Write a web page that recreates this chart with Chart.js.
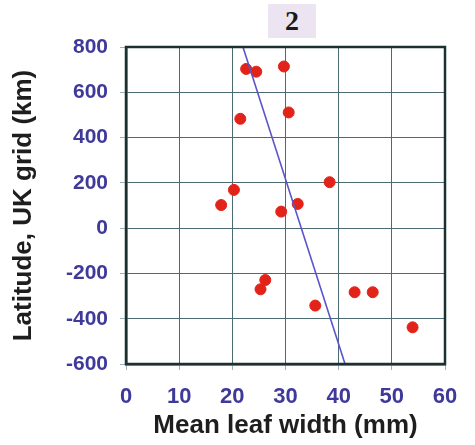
<!DOCTYPE html>
<html lang="en">
<head>
    <meta charset="UTF-8">
    <title>Latitude vs mean leaf width</title>
    <script src="https://cdn.jsdelivr.net/npm/chart.js"></script>
    <style>
        body {
            margin: 0;
            background: #ffffff;
        }
        #wrap {
            position: relative;
            width: 475px;
            height: 445px;
        }
        #label {
            position: absolute;
            left: 268px;
            top: 4px;
            width: 48px;
            height: 34px;
            background: #ede4f1;
            font: bold 28px "Liberation Serif", serif;
            color: #1a1a1a;
            text-align: center;
            line-height: 34px;
        }
    </style>
</head>
<body>
    <div id="wrap">
        <canvas id="leafChart" width="475" height="445"></canvas>
        <div id="label">2</div>
    </div>

    <script>
        // mean leaf width (mm) and latitude on the UK grid (km)
        const leafWidth = [22.6, 24.5, 29.7, 21.5, 30.6, 38.3, 20.3, 17.9, 32.3, 29.2, 26.2, 25.3, 35.6, 43.0, 46.4, 53.9];
        const latitude = [703, 691, 714, 483, 511, 203, 169, 102, 107, 73, -229, -270, -342, -283, -283, -438];

        // fitted line end points (where it leaves the plot box)
        const fitX = [22.0, 41.2];
        const fitY = [800, -600];

        const xTicks = [0, 10, 20, 30, 40, 50, 60];
        const yTicks = [-600, -400, -200, 0, 200, 400, 600, 800];

        const tickColor = '#3f3a9a';
        const gridColor = '#4b6a74';
        const frameColor = '#1c3030';

        const points = leafWidth.map((w, i) => ({ x: w, y: latitude[i] }));
        const fit = fitX.map((x, i) => ({ x: x, y: fitY[i] }));

        // dark box all round the plot area
        const frame = {
            id: 'frame',
            afterDatasetsDraw(chart) {
                const a = chart.chartArea;
                const c = chart.ctx;
                c.save();
                c.strokeStyle = frameColor;
                c.lineWidth = 2.5;
                c.strokeRect(a.left, a.top, a.right - a.left, a.bottom - a.top);
                c.restore();
            }
        };

        const ctx = document.getElementById('leafChart').getContext('2d');

        new Chart(ctx, {
            type: 'scatter',
            data: {
                datasets: [
                    {
                        label: 'fit',
                        type: 'line',
                        data: fit,
                        borderColor: '#5a55cc',
                        borderWidth: 1.6,
                        pointRadius: 0,
                        fill: false
                    },
                    {
                        label: 'sites',
                        data: points,
                        backgroundColor: '#e2231a',
                        borderColor: '#e2231a',
                        pointRadius: 5.5
                    }
                ]
            },
            plugins: [frame],
            options: {
                responsive: false,
                animation: false,
                layout: {
                    padding: { left: 8, right: 30, top: 47, bottom: 4 }
                },
                plugins: {
                    legend: { display: false },
                    tooltip: { enabled: false }
                },
                scales: {
                    x: {
                        min: 0,
                        max: 60,
                        afterBuildTicks: scale => {
                            scale.ticks = xTicks.map(v => ({ value: v }));
                        },
                        afterFit: scale => {
                            scale.height = 445 - 364 - 4;
                        },
                        grid: {
                            color: gridColor,
                            lineWidth: 1,
                            tickLength: 6,
                            tickColor: '#9bb3c0'
                        },
                        border: { color: frameColor, width: 2.5 },
                        ticks: {
                            color: tickColor,
                            padding: 14,
                            font: { family: 'Liberation Sans', size: 22, weight: 'bold' }
                        },
                        title: {
                            display: true,
                            text: 'Mean leaf width (mm)',
                            color: '#1e1e1e',
                            padding: 0,
                            font: { family: 'Liberation Sans', size: 26, weight: 'bold' }
                        }
                    },
                    y: {
                        min: -600,
                        max: 800,
                        afterBuildTicks: scale => {
                            scale.ticks = yTicks.map(v => ({ value: v }));
                        },
                        afterFit: scale => {
                            scale.width = 126 - 8;
                        },
                        grid: {
                            color: gridColor,
                            lineWidth: 1,
                            tickLength: 6,
                            tickColor: '#9bb3c0'
                        },
                        border: { color: frameColor, width: 2.5 },
                        ticks: {
                            color: tickColor,
                            padding: 12,
                            font: { family: 'Liberation Sans', size: 21, weight: 'bold' }
                        },
                        title: {
                            display: true,
                            text: 'Latitude, UK grid (km)',
                            color: '#1e1e1e',
                            padding: 0,
                            font: { family: 'Liberation Sans', size: 26, weight: 'bold' }
                        }
                    }
                }
            }
        });
    </script>
</body>
</html>
